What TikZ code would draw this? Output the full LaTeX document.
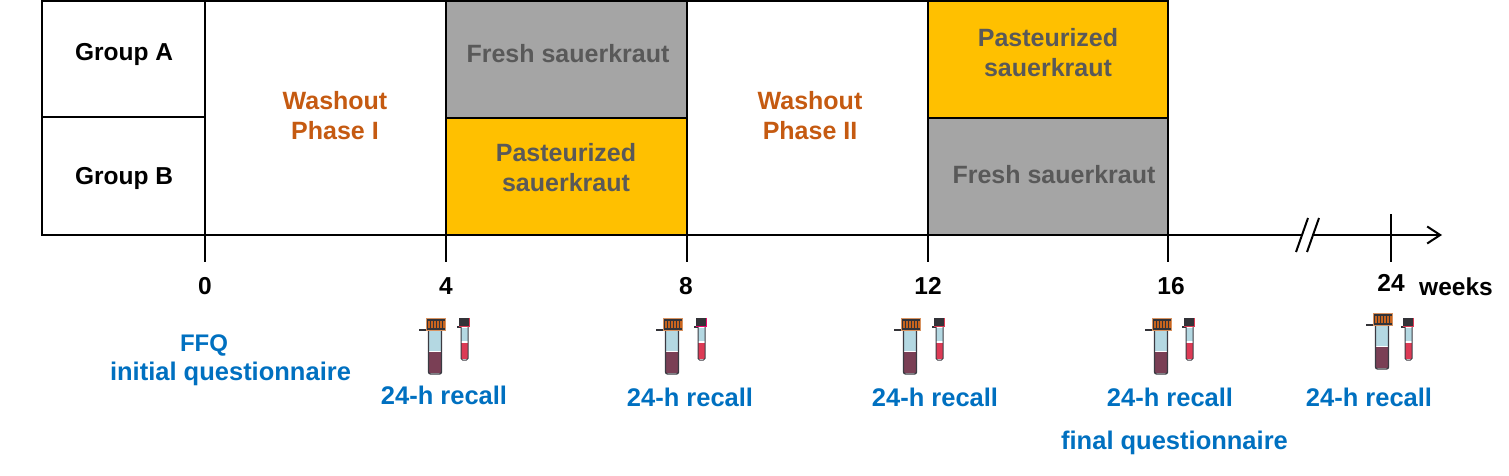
\documentclass[tikz,border=0pt]{standalone}
\usepackage{fontspec}
\setmainfont{Liberation Sans}
\usetikzlibrary{arrows.meta}
\definecolor{kgrey}{HTML}{A5A5A5}
\definecolor{korange}{HTML}{FFC000}
\definecolor{ktext}{HTML}{595959}
\definecolor{kwash}{HTML}{C55A11}
\definecolor{kblue}{HTML}{0070C0}
\definecolor{tubeblue}{HTML}{B4D8E2}
\definecolor{tubedark}{HTML}{7A3F55}
\definecolor{tubered}{HTML}{DC3A55}
\definecolor{capdark}{HTML}{333338}
\definecolor{capor}{HTML}{C8641E}
\definecolor{tubeline}{HTML}{3A3A42}
\tikzset{
  x=1pt,y=-1pt,
  every node/.style={inner sep=0pt,outer sep=0pt},
  box/.style={draw=black,line width=2pt,anchor=north west},
  txt/.style={font=\fontsize{24.5}{29}\selectfont\bfseries,anchor=center},
  axis/.style={line width=2pt,draw=black},
  wash/.style={txt,font=\fontsize{25}{29}\selectfont\bfseries,text=kwash},
  kraut/.style={txt,font=\fontsize{25}{29}\selectfont\bfseries,text=ktext},
  info/.style={txt,font=\fontsize{25.5}{29}\selectfont\bfseries,text=kblue},
  pics/bigtube/.style={code={
    \fill[tubeblue] (2.5,13) rectangle (15.5,33);
    \fill[tubedark] (2.5,34) rectangle (15.5,55);
    \draw[tubeline,line width=1.3pt,rounded corners=2pt] (2.5,12) -- (2.5,56) -- (15.5,56) -- (15.5,12);
    \fill[capdark] (-7,10.5) rectangle (2,12.5);
    \fill[capdark] (0,0) rectangle (19,12);
    \foreach \i in {2,5,8,11,14,17}{\fill[capor] (\i,2.5) rectangle +(1.6,7.5);}
    \draw[capor!70!white,line width=.8pt] (0,0) rectangle (19,12);
  }},
  pics/smalltube/.style={code={
    \fill[tubeblue] (2,10) rectangle (9,23);
    \fill[tubered] (2,25) rectangle (9,41);
    \draw[tubeline,line width=1pt,rounded corners=1.5pt] (2,9) -- (2,42) -- (9,42) -- (9,9);
    \fill[capdark] (-2,7.5) rectangle (2,9.5);
    \fill[capdark] (0,0) rectangle (11,8.5);
    \fill[#1] (0,7.6) rectangle (11,9);
    \fill[#1] (10,0) rectangle (11,8.5);
  }},
  pics/smalltube/.default=tubered
}
\begin{document}
\begin{tikzpicture}
\useasboundingbox (0,0) rectangle (1509,476);
% boxes
\node[box,minimum width=163pt,minimum height=116pt] (ga) at (42,1) {};
\node[box,minimum width=163pt,minimum height=118pt] (gb) at (42,117) {};
\node[box,minimum width=241pt,minimum height=234pt] (w1) at (205,1) {};
\node[box,fill=kgrey,minimum width=241pt,minimum height=117pt] (f1) at (446,1) {};
\node[box,fill=korange,minimum width=241pt,minimum height=117pt] (p1) at (446,118) {};
\node[box,minimum width=241pt,minimum height=234pt] (w2) at (687,1) {};
\node[box,fill=korange,minimum width=240pt,minimum height=117pt] (p2) at (928,1) {};
\node[box,fill=kgrey,minimum width=240pt,minimum height=117pt] (f2) at (928,118) {};
% box texts
\node[txt] (tga) at (124,54) {Group A};
\node[txt] (tgb) at (124,178) {Group B};
\node[wash] (w1a) at (335,101) {Washout};
\node[wash] (w1b) at (335,131) {Phase I};
\node[kraut] (tf1) at (568,54) {Fresh sauerkraut};
\node[kraut] (tp1a) at (566,153) {Pasteurized};
\node[kraut] (tp1b) at (566,183) {sauerkraut};
\node[wash] (w2a) at (810,101) {Washout};
\node[wash] (w2b) at (810,131) {Phase II};
\node[kraut] (tp2a) at (1048,38) {Pasteurized};
\node[kraut] (tp2b) at (1048,68) {sauerkraut};
\node[kraut] (tf2) at (1054,175) {Fresh sauerkraut};
% axis
\coordinate (ax0) at (205,235);
\coordinate (ax4) at (446,235);
\coordinate (ax8) at (687,235);
\coordinate (ax12) at (928,235);
\coordinate (ax16) at (1168,235);
\coordinate (brkA) at (1302,235);
\coordinate (brkB) at (1313,235);
\coordinate (ax24) at (1391,235);
\coordinate (axEnd) at (1442,235);
\draw[axis] (ax16) -- (brkA);
\draw[axis,-{Straight Barb[length=13pt,width=17pt,line width=2pt]}] (brkB) -- (axEnd);
\draw[axis] (1296,252) -- (1308,218);
\draw[axis] (1307,252) -- (1319,218);
\draw[axis] (ax24 |- 0,214) -- (ax24 |- 0,262);
\foreach \c in {ax0,ax4,ax8,ax12,ax16}{\draw[axis] (\c) -- (\c |- 0,262);}
% axis labels
\node[txt] (l0) at (205,286) {0};
\node[txt] (l4) at (446,286) {4};
\node[txt] (l8) at (686,286) {8};
\node[txt] (l12) at (928,286) {12};
\node[txt] (l16) at (1171,286) {16};
\node[txt] (l24) at (1391,283) {24};
\node[txt] (lw) at (1456,287) {weeks};
% tubes
\pic at (426,318) {bigtube};
\pic at (459,318) {smalltube};
\pic at (663,318) {bigtube};
\pic at (696,318) {smalltube=magenta!70!red};
\pic at (901,318) {bigtube};
\pic at (934,318) {smalltube};
\pic at (1152,318) {bigtube};
\pic at (1184,318) {smalltube};
\pic at (1373,313) {bigtube};
\pic at (1403,318) {smalltube};
% info texts
\node[info,font=\fontsize{24}{29}\selectfont\bfseries] (ffq) at (204,345) {FFQ};
\node[info] (iq) at (230.5,374) {initial questionnaire};
\node[info] (r1) at (444,395) {24-h recall};
\node[info] (r2) at (690,397) {24-h recall};
\node[info] (r3) at (935,397) {24-h recall};
\node[info] (r4) at (1170,397) {24-h recall};
\node[info] (r5) at (1369,397) {24-h recall};
\node[info] (fq) at (1174.5,443) {final questionnaire};
\end{tikzpicture}
\end{document}
